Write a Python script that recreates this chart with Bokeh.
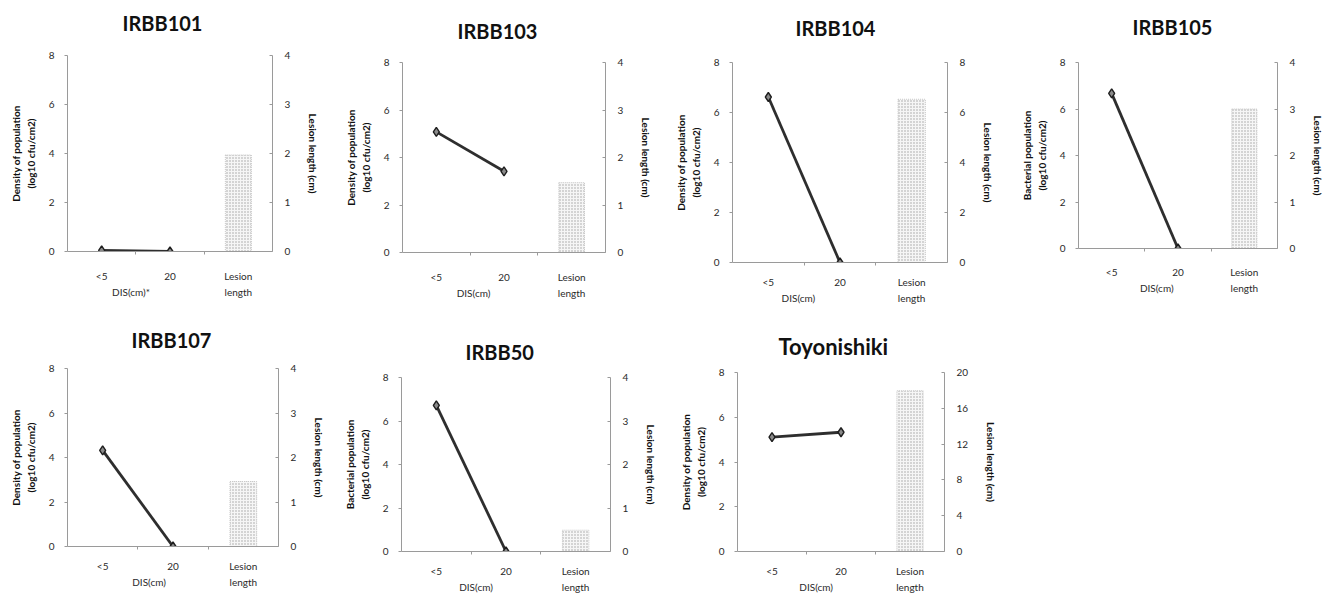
from bokeh.plotting import figure
from bokeh.models import Range1d, LinearAxis, FixedTicker
from bokeh.layouts import column, row
from bokeh.embed import file_html
from bokeh.resources import INLINE

# ---- data ----
varieties = ["IRBB101", "IRBB103", "IRBB104", "IRBB105", "IRBB107", "IRBB50", "Toyonishiki"]
categories = ["<5", "20", "Lesion"]
categories_line2 = ["", "", "length"]
pop_lt5 = [0.05, 5.08, 6.62, 6.67, 4.32, 6.72, 5.11]     # log10 cfu/cm2 at DIS < 5 cm
pop_20 = [0.0, 3.42, 0.0, 0.0, 0.0, 0.0, 5.33]          # log10 cfu/cm2 at DIS 20 cm
lesion_cm = [1.97, 1.47, 6.53, 3.0, 1.46, 0.49, 17.96]  # lesion length (cm)
lesion_axis_max = [4, 4, 8, 4, 4, 4, 20]
lesion_tick_step = [1, 1, 2, 1, 1, 1, 4]
y_labels = ["Density of population\n(log10 cfu/cm2)",
            "Density of population\n(log10 cfu/cm2)",
            "Density of population\n(log10 cfu/cm2)",
            "Bacterial population\n(log10 cfu/cm2)",
            "Density of population\n(log10 cfu/cm2)",
            "Bacterial population\n(log10 cfu/cm2)",
            "Density of population\n(log10 cfu/cm2)"]
x_labels = ["DIS(cm)*", "DIS(cm)", "DIS(cm)", "DIS(cm)", "DIS(cm)", "DIS(cm)", "DIS(cm)"]
right_label = "Lesion length (cm)"

# ---- layout (positions / sizes) ----
# (width, height, left, right, top, bottom,
#  title_left, title_standoff, title_pad_line, title_size, x_standoff, x_title_pos)
geom = [
    (330, 308, 67, 58, 55, 57, 55, -7, True, "20px", 15, 0.93),
    (330, 308, 72, 55, 62, 56, 55, -9, True, "20px", 15, 1.05),
    (340, 308, 72, 53, 62, 46, 63, -3, True, "20px", 10, 0.92),
    (331, 308, 78, 54, 62, 60, 54, -1, True, "20px", 14, 1.18),
    (330, 287, 67, 52, 60, 49, 64, 34, False, "20px", 10, 1.16),
    (330, 287, 71, 44, 69, 42, 64, 27, False, "20px", 10, 1.07),
    (340, 287, 77, 55, 64, 43, 41, 25, False, "22px", 10, 1.14),
]

FONT = "Lato"
AXIS_COL = "#9a9a9a"
TEXT_COL = "#2a2a2a"

figs = []
for i, name in enumerate(varieties):
    w, h, bl, br, bt, bb, tleft, tstand, tpad, tsize, xstand, xtpos = geom[i]
    p = figure(width=w, height=h, x_range=Range1d(0, 3), y_range=Range1d(0, 8),
               output_backend="svg", toolbar_location=None,
               min_border_left=bl, min_border_right=br,
               min_border_top=bt, min_border_bottom=bb,
               x_axis_location="below", y_axis_location="left")
    if "frame_align" in p.properties():
        p.frame_align = False
    p.outline_line_color = None
    p.xgrid.visible = False
    p.ygrid.visible = False
    p.background_fill_color = "white"
    p.border_fill_color = "white"

    # panel title
    p.title.text = name + ("\n" if tpad else "")
    p.title.align = "left"
    p.title.offset = tleft
    try:
        p.title.standoff = tstand
    except ValueError:
        p.title.standoff = 0
    p.title.text_font = FONT
    p.title.text_font_size = tsize
    p.title.text_font_style = "bold"
    p.title.text_color = "#111111"

    rmax = lesion_axis_max[i]
    p.extra_y_ranges = {"lesion": Range1d(0, rmax)}

    # x axis: categories at 0.5, 1.5, 2.5
    xa = p.xaxis[0]
    xa.ticker = FixedTicker(ticks=[0.5, 1.5, 2.5], minor_ticks=[1, 2])
    xa.major_label_overrides = {0.5: categories[0], 1.5: categories[1], 2.5: categories[2]}
    xa.major_tick_in = 0
    xa.major_tick_out = 0
    xa.minor_tick_in = 0
    xa.minor_tick_out = 3
    xa.minor_tick_line_color = AXIS_COL
    xa.axis_line_color = AXIS_COL
    xa.major_label_text_font = FONT
    xa.major_label_text_font_size = "10px"
    xa.major_label_text_color = TEXT_COL
    xa.major_label_standoff = xstand

    # second line below the categories: axis title and "length"
    xa2 = LinearAxis(ticker=FixedTicker(ticks=[xtpos, 2.5], minor_ticks=[]))
    xa2.major_label_overrides = {xtpos: x_labels[i], 2.5: categories_line2[2]}
    xa2.axis_line_color = None
    xa2.major_tick_line_color = None
    xa2.minor_tick_line_color = None
    xa2.major_tick_in = 0
    xa2.major_tick_out = 0
    xa2.major_label_text_font = FONT
    xa2.major_label_text_font_size = "10px"
    xa2.major_label_text_color = TEXT_COL
    xa2.major_label_standoff = 1
    p.add_layout(xa2, "below")

    # left axis
    ya = p.yaxis[0]
    ya.ticker = FixedTicker(ticks=[0, 2, 4, 6, 8], minor_ticks=[])
    ya.axis_label = y_labels[i]
    ya.axis_label_text_font = FONT
    ya.axis_label_text_font_size = "10px"
    ya.axis_label_text_font_style = "bold"
    ya.axis_label_text_color = "#111111"
    ya.axis_label_standoff = 9
    ya.major_tick_in = 0
    ya.major_tick_out = 3
    ya.major_tick_line_color = AXIS_COL
    ya.minor_tick_line_color = None
    ya.axis_line_color = AXIS_COL
    ya.major_label_text_font = FONT
    ya.major_label_text_font_size = "10px"
    ya.major_label_text_color = TEXT_COL
    ya.major_label_standoff = 10

    # right axis
    ra = LinearAxis(y_range_name="lesion", axis_label=right_label,
                    ticker=FixedTicker(ticks=list(range(0, rmax + 1, lesion_tick_step[i])),
                                       minor_ticks=[]))
    ra.axis_label_text_font = FONT
    ra.axis_label_text_font_size = "10px"
    ra.axis_label_text_font_style = "bold"
    ra.axis_label_text_color = "#111111"
    ra.axis_label_standoff = 14
    ra.major_tick_in = 3
    ra.major_tick_out = 0
    ra.major_tick_line_color = AXIS_COL
    ra.axis_line_color = AXIS_COL
    ra.major_label_text_font = FONT
    ra.major_label_text_font_size = "10px"
    ra.major_label_text_color = TEXT_COL
    ra.major_label_standoff = 12
    p.add_layout(ra, "right")

    # lesion length bar (right axis)
    p.vbar(x=[2.5], top=[lesion_cm[i]], bottom=0, width=0.38, y_range_name="lesion",
           fill_color="#f6f6f6", line_color="#c8c8c8", line_dash="1 1",
           hatch_pattern="dot", hatch_color="#a0a0a0", hatch_scale=3, hatch_weight=1)

    # bacterial population line (left axis)
    xs = [0.5, 1.5]
    ys = [pop_lt5[i], pop_20[i]]
    p.line(xs, ys, line_color="#2e2e2e", line_width=2.8)
    p.scatter(xs, ys, marker="diamond", size=9, fill_color="#8a8a8a",
              line_color="#1e1e1e", line_width=1.4)

    figs.append(p)

layout = column(row(*figs[:4]), row(*figs[4:]))
open("out.html", "w").write(file_html(layout, INLINE))
